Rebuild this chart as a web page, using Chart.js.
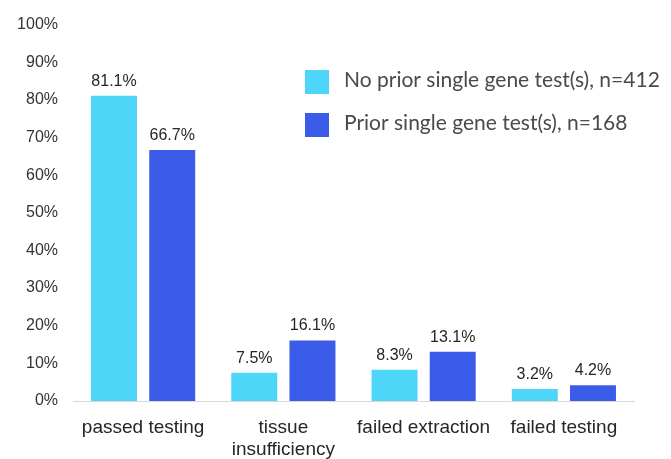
<!DOCTYPE html>
<html>
<head>
<meta charset="utf-8">
<script src="https://cdn.jsdelivr.net/npm/chart.js@4/dist/chart.umd.min.js"></script>
<style>
  html, body { margin: 0; padding: 0; background: #ffffff; }
  #wrap { width: 671px; height: 459px; position: relative; }
</style>
</head>
<body>
<div id="wrap"><canvas id="c" width="671" height="459"></canvas></div>
<script>
const categories = ['passed testing', ['tissue', 'insufficiency'], 'failed extraction', 'failed testing'];
const noPriorValues = [81.1, 7.5, 8.3, 3.2];
const priorValues = [66.7, 16.1, 13.1, 4.2];
const seriesLabels = ['No prior single gene test(s), n=412', 'Prior single gene test(s), n=168'];
const seriesColors = ['#4dd6f8', '#3b5ce9'];
const yTicks = [0, 10, 20, 30, 40, 50, 60, 70, 80, 90, 100];

const valueLabels = {
  id: 'valueLabels',
  afterDatasetsDraw(chart) {
    const ctx = chart.ctx;
    ctx.save();
    ctx.font = '16px "Liberation Sans", Arial, sans-serif';
    ctx.fillStyle = '#262626';
    ctx.textAlign = 'center';
    ctx.textBaseline = 'alphabetic';
    chart.data.datasets.forEach((ds, i) => {
      chart.getDatasetMeta(i).data.forEach((bar, j) => {
        ctx.fillText(ds.data[j].toFixed(1) + '%', bar.x, bar.y - 10);
      });
    });
    ctx.restore();
  }
};

const insideLegend = {
  id: 'insideLegend',
  afterDraw(chart) {
    const ctx = chart.ctx;
    ctx.save();
    ctx.font = '21px Lato, "Noto Sans", sans-serif';
    ctx.textBaseline = 'middle';
    ctx.textAlign = 'left';
    chart.data.datasets.forEach((ds, i) => {
      const y = 70 + i * 43;
      ctx.fillStyle = ds.backgroundColor;
      ctx.fillRect(305, y, 24, 24);
      ctx.fillStyle = '#4a4a4a';
      ctx.fillText(ds.label, 344, y + 10);
    });
    ctx.restore();
  }
};

new Chart(document.getElementById('c'), {
  type: 'bar',
  data: {
    labels: categories,
    datasets: [
      { label: seriesLabels[0], data: noPriorValues, backgroundColor: seriesColors[0],
        categoryPercentage: 0.83, barPercentage: 0.79 },
      { label: seriesLabels[1], data: priorValues, backgroundColor: seriesColors[1],
        categoryPercentage: 0.83, barPercentage: 0.79 }
    ]
  },
  options: {
    responsive: false,
    animation: false,
    devicePixelRatio: 1,
    layout: { padding: { top: 22, right: 37, left: 0, bottom: 0 } },
    plugins: {
      legend: { display: false },
      tooltip: { enabled: false },
      title: { display: false }
    },
    scales: {
      x: {
        grid: { display: false, drawTicks: false },
        border: { display: true, color: '#d9d9d9', width: 1 },
        ticks: {
          color: '#262626',
          font: { family: '"Liberation Sans", Arial, sans-serif', size: 19 },
          padding: 15,
          maxRotation: 0,
          autoSkip: false
        },
        afterFit(scale) { scale.height = 58; }
      },
      y: {
        min: 0,
        max: 100,
        afterBuildTicks(scale) { scale.ticks = yTicks.map(v => ({ value: v })); },
        grid: { display: false, drawTicks: false },
        border: { display: false },
        ticks: {
          color: '#333333',
          font: { family: '"Liberation Sans", Arial, sans-serif', size: 16 },
          padding: 15,
          callback: v => v + '%'
        },
        afterFit(scale) { scale.width = 73; }
      }
    }
  },
  plugins: [valueLabels, insideLegend]
});
</script>
</body>
</html>
